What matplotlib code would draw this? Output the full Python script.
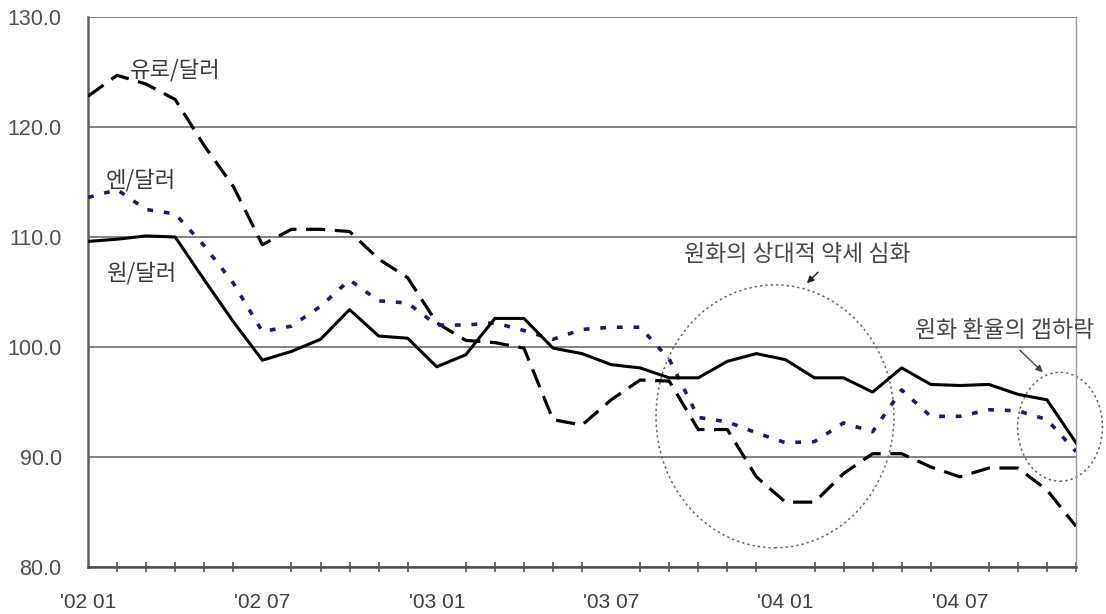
import numpy as np
import matplotlib.pyplot as plt
from matplotlib.patches import Ellipse
from matplotlib.ticker import MultipleLocator

# monthly exchange-rate indices, 2002.01 - 2004.11
months = np.arange(35)
tick_pos = [0, 6, 12, 18, 24, 30]
tick_labels = ["'02 01", "'02 07", "'03 01", "'03 07", "'04 01", "'04 07"]

won_usd = [109.6, 109.8, 110.1, 110.0, 106.1, 102.3, 98.8, 99.6, 100.7, 103.4,
           101.0, 100.8, 98.2, 99.3, 102.6, 102.6, 99.9, 99.4, 98.4, 98.1,
           97.2, 97.2, 98.7, 99.4, 98.85, 97.2, 97.2, 95.9, 98.1, 96.6,
           96.5, 96.6, 95.7, 95.2, 91.3]
euro_usd = [122.8, 124.7, 123.9, 122.5, 118.3, 114.6, 109.3, 110.7, 110.7, 110.5,
            108.0, 106.3, 102.2, 100.6, 100.4, 99.9, 93.4, 92.9, 95.2, 97.0,
            96.9, 92.5, 92.5, 88.2, 85.9, 85.9, 88.5, 90.3, 90.3, 89.1,
            88.2, 89.0, 89.0, 87.0, 83.7]
yen_usd = [113.6, 114.3, 112.5, 112.1, 109.2, 105.8, 101.4, 101.9, 103.7, 106.1,
           104.2, 104.0, 102.0, 102.0, 102.2, 101.5, 100.7, 101.6, 101.8, 101.8,
           98.9, 93.6, 93.2, 92.2, 91.3, 91.4, 93.1, 92.3, 96.1, 93.7,
           93.7, 94.3, 94.2, 93.4, 90.5]

kr_font = ['Noto Sans CJK KR', 'DejaVu Sans']
num_font = ['Liberation Sans', 'DejaVu Sans']

fig = plt.figure(figsize=(11.06, 6.14), dpi=100)
ax = fig.add_axes([0.0796, 0.0765, 0.8933, 0.8958])

ax.plot(months, euro_usd, color='black', lw=2.3, linestyle=(0, (6, 3)), zorder=3)
ax.plot(months, yen_usd, color='#1c1c6e', lw=2.6, linestyle=(0, (1.6, 3)), zorder=3)
ax.plot(months, won_usd, color='black', lw=2.2, zorder=4)

ax.set_xlim(0, 34)
ax.set_ylim(80, 130)
ax.yaxis.set_major_locator(MultipleLocator(10))
ax.yaxis.grid(True, color='#7a7a7a', lw=1.3)
ax.set_axisbelow(True)

ax.set_xticks(tick_pos)
ax.set_xticklabels(tick_labels)
ax.set_xticks(months, minor=True)
ax.set_yticks(np.arange(80, 131, 10))
ax.set_yticklabels([f'{v:.1f}' for v in np.arange(80, 131, 10)])

ax.tick_params(axis='y', length=0, pad=19, labelsize=15.5, labelcolor='#505050')
ax.tick_params(axis='x', which='major', length=0, pad=19, labelsize=15,
               labelcolor='#404040')
ax.tick_params(axis='x', which='minor', direction='inout', length=7,
               width=1.2, color='#555555')
for lbl in ax.get_xticklabels() + ax.get_yticklabels():
    lbl.set_family(num_font)

ax.spines['top'].set_visible(False)
ax.spines['left'].set_color('#606060')
ax.spines['left'].set_linewidth(1.8)
ax.spines['bottom'].set_color('#505050')
ax.spines['bottom'].set_linewidth(1.8)
ax.spines['right'].set_color('#9a9a9a')
ax.spines['right'].set_linewidth(1.0)

# series labels
label_kw = dict(family=kr_font, fontsize=16, color='#3a3a3a', ha='center', va='center')
ax.text(3.0, 125.2, '유로/달러', **label_kw)
ax.text(1.8, 115.2, '엔/달러', **label_kw)
ax.text(1.86, 106.7, '원/달러', **label_kw)

# highlighted periods
ax.add_patch(Ellipse((23.64, 93.7), 8.19, 23.9, fill=False, ls=(0, (1.5, 2)),
                     lw=1.1, ec='#666666', clip_on=False, zorder=2))
ax.add_patch(Ellipse((33.45, 92.75), 2.92, 9.9, fill=False, ls=(0, (1.5, 2)),
                     lw=1.1, ec='#666666', clip_on=False, zorder=2))

note_kw = dict(family=kr_font, fontsize=16.5, color='#484848', ha='center',
               va='center', clip_on=False)
ax.text(24.4, 108.4, '원화의 상대적 약세 심화', **note_kw)
ax.annotate('', xy=(24.74, 105.8), xytext=(25.12, 106.8),
            arrowprops=dict(arrowstyle='-|>', color='#222222', lw=1.0,
                            mutation_scale=10, shrinkA=0, shrinkB=0))

ax.text(31.55, 101.5, '원화 환율의 갭하락', **note_kw)
ax.annotate('', xy=(32.86, 97.7), xytext=(32.07, 99.7),
            arrowprops=dict(arrowstyle='-|>', color='#444444', lw=1.0,
                            mutation_scale=10, shrinkA=0, shrinkB=0))

fig.savefig('out.png', dpi=100)
